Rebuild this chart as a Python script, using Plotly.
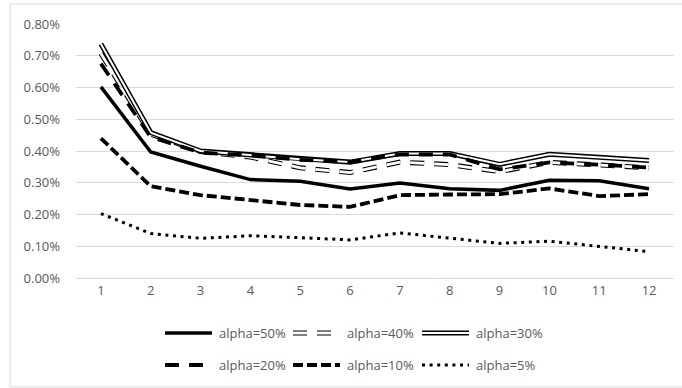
import plotly.graph_objects as go

# Periods on the x axis
periods = list(range(1, 13))

# Values per series, in percent
alpha_50 = [0.602, 0.397, 0.352, 0.310, 0.305, 0.280, 0.299, 0.281, 0.276, 0.308, 0.306, 0.281]
alpha_40 = [0.707, 0.453, 0.398, 0.381, 0.347, 0.332, 0.365, 0.357, 0.335, 0.364, 0.356, 0.347]
alpha_30 = [0.737, 0.458, 0.400, 0.388, 0.374, 0.365, 0.392, 0.392, 0.358, 0.390, 0.380, 0.370]
alpha_20 = [0.675, 0.444, 0.395, 0.386, 0.372, 0.366, 0.389, 0.389, 0.342, 0.364, 0.357, 0.348]
alpha_10 = [0.440, 0.289, 0.261, 0.247, 0.230, 0.224, 0.261, 0.263, 0.264, 0.282, 0.258, 0.264]
alpha_5 = [0.203, 0.140, 0.125, 0.133, 0.127, 0.120, 0.142, 0.125, 0.109, 0.116, 0.100, 0.083]

series_names = ["alpha=50%", "alpha=40%", "alpha=30%", "alpha=20%", "alpha=10%", "alpha=5%"]
y_ticks = [0.0, 0.1, 0.2, 0.3, 0.4, 0.5, 0.6, 0.7, 0.8]

GRID = "#D9D9D9"
TEXT = "#595959"
FONT = "Open Sans"

# Each style is a list of stroke layers (color, width, dash) drawn bottom-up
styles = {
    "alpha=50%": [("black", 3.5, "solid")],
    "alpha=40%": [("black", 5, "14px,10px"), ("white", 2.8, "14px,10px")],
    "alpha=30%": [("black", 5, "solid"), ("white", 2, "solid")],
    "alpha=20%": [("black", 3.8, "14px,10px")],
    "alpha=10%": [("black", 3.8, "10px,4px")],
    "alpha=5%": [("black", 3, "3px,4.6px")],
}
values = [alpha_50, alpha_40, alpha_30, alpha_20, alpha_10, alpha_5]

fig = go.Figure()
for name, vals in zip(series_names, values):
    for color, width, dash in styles[name]:
        fig.add_trace(go.Scatter(
            x=periods, y=vals, mode="lines", name=name, showlegend=False,
            line=dict(color=color, width=width, dash=dash),
            hoverinfo="skip",
        ))

W, H = 682, 388
L, R, T, B = 76, 8, 24, 110
pw, ph = W - L - R, H - T - B


def px_x(x):
    return (x - L) / pw


def px_y(y):
    return (H - B - y) / ph


shapes = []
annotations = []

# Outer chart frame
shapes.append(dict(type="rect", xref="paper", yref="paper",
                   x0=px_x(10), x1=px_x(700), y0=px_y(4), y1=px_y(387),
                   line=dict(color=GRID, width=1), layer="below"))

# Legend: two rows of three entries
legend_cols = [165, 293, 422]
legend_rows = [333, 365]
sample_len = 47
for i, name in enumerate(series_names):
    cx = legend_cols[i % 3]
    cy = legend_rows[i // 3]
    for color, width, dash in styles[name]:
        shapes.append(dict(type="line", xref="paper", yref="paper",
                           x0=px_x(cx), x1=px_x(cx + sample_len),
                           y0=px_y(cy), y1=px_y(cy),
                           line=dict(color=color, width=width,
                                     dash=dash if dash != "solid" else None)))
    annotations.append(dict(text=name, xref="paper", yref="paper",
                            x=px_x(cx + sample_len + 5), y=px_y(cy),
                            xanchor="left", yanchor="middle", showarrow=False,
                            font=dict(family=FONT, size=13, color=TEXT)))

fig.update_layout(
    width=W, height=H,
    margin=dict(l=L, r=R, t=T, b=B),
    paper_bgcolor="white", plot_bgcolor="white",
    font=dict(family=FONT, size=13, color=TEXT),
    showlegend=False,
    shapes=shapes,
    annotations=annotations,
    xaxis=dict(range=[0.5, 12.5], tickmode="array", tickvals=periods,
               ticktext=[str(p) for p in periods], showgrid=False,
               showline=True, linecolor=GRID, linewidth=1, ticks="",
               zeroline=False, fixedrange=True),
    yaxis=dict(range=[0, 0.8], tickmode="array", tickvals=y_ticks,
               ticktext=[f"{v:.2f}%" for v in y_ticks], showgrid=True,
               gridcolor=GRID, gridwidth=1, zeroline=False, showline=False,
               ticks="", ticklabelstandoff=15, fixedrange=True),
)

fig.write_html("out.html", config={"displayModeBar": False})
